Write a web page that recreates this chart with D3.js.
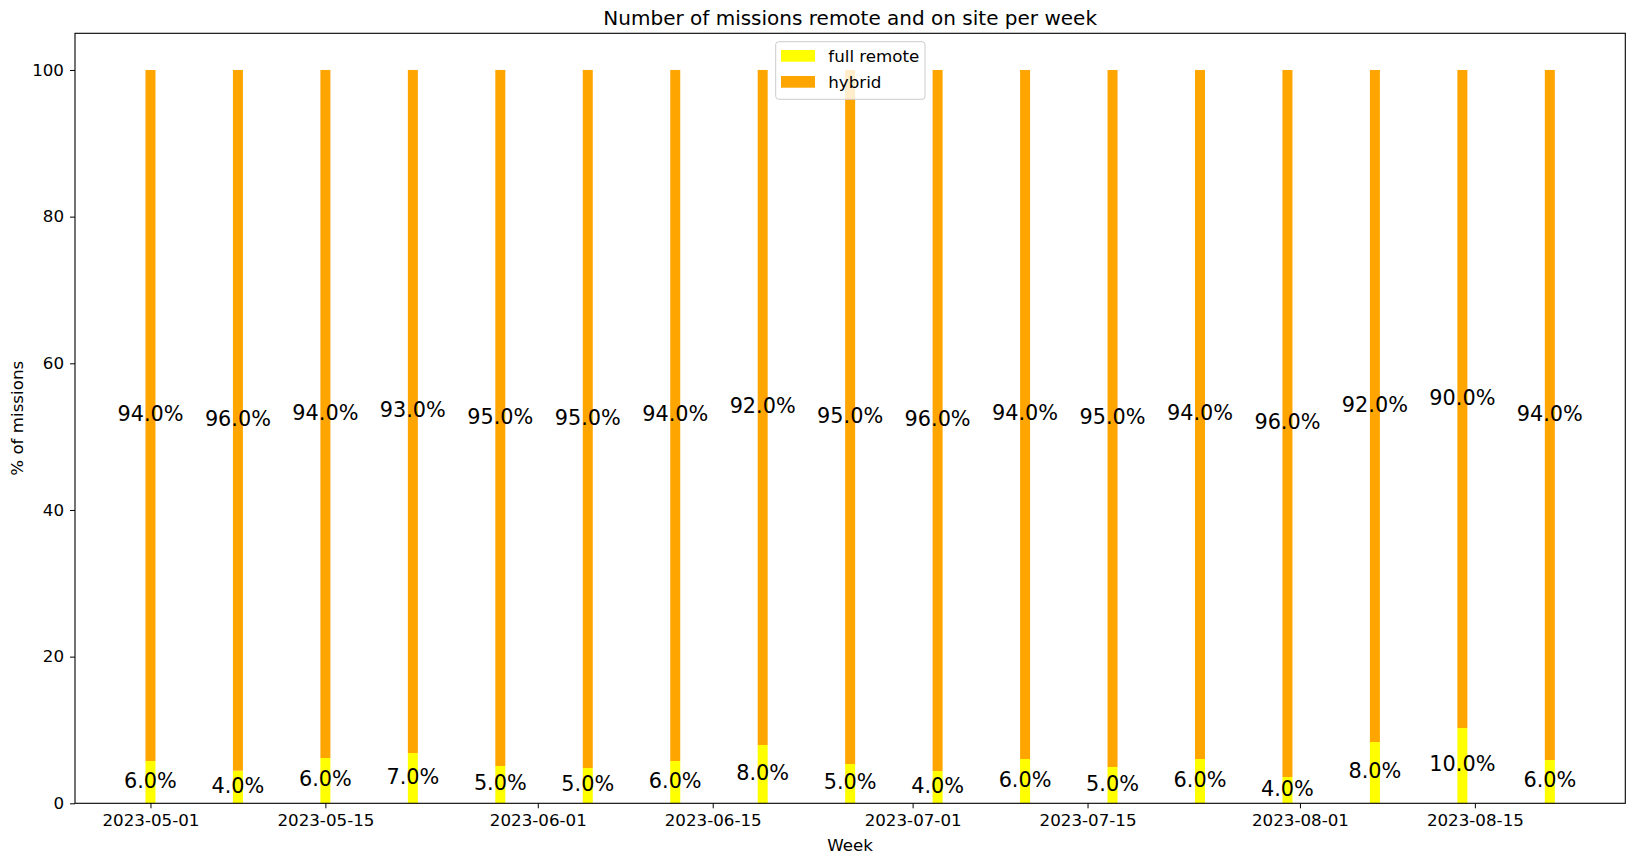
<!DOCTYPE html>
<html>
<head>
<meta charset="utf-8">
<script src="https://cdn.jsdelivr.net/npm/d3@7"></script>
<style>
  html, body { margin: 0; padding: 0; background: #ffffff; }
  svg { display: block; }
  text { font-family: "DejaVu Sans", sans-serif; fill: #000; }
</style>
</head>
<body>
<svg id="chart" width="1634" height="864"></svg>
<script>
// ---- data ----
const weeks = ["2023-05-01","2023-05-08","2023-05-15","2023-05-22","2023-05-29","2023-06-05",
  "2023-06-12","2023-06-19","2023-06-26","2023-07-03","2023-07-10","2023-07-17","2023-07-24",
  "2023-07-31","2023-08-07","2023-08-14","2023-08-21"];
const fullRemote = [5.77, 4.45, 6.18, 6.86, 5.09, 4.81, 5.77, 7.95, 5.36, 4.40, 6.04, 4.95, 6.04, 3.59, 8.36, 10.27, 5.90];
const hybrid     = [94.23, 95.55, 93.82, 93.14, 94.91, 95.19, 94.23, 92.05, 94.64, 95.60, 93.96, 95.05, 93.96, 96.41, 91.64, 89.73, 94.10];
const remoteLabels = ["6.0%","4.0%","6.0%","7.0%","5.0%","5.0%","6.0%","8.0%","5.0%","4.0%","6.0%","5.0%","6.0%","4.0%","8.0%","10.0%","6.0%"];
const hybridLabels = ["94.0%","96.0%","94.0%","93.0%","95.0%","95.0%","94.0%","92.0%","95.0%","96.0%","94.0%","95.0%","94.0%","96.0%","92.0%","90.0%","94.0%"];
const xTickDates = ["2023-05-01","2023-05-15","2023-06-01","2023-06-15","2023-07-01","2023-07-15","2023-08-01","2023-08-15"];
const yTicks = [0, 20, 40, 60, 80, 100];
const seriesNames = ["full remote", "hybrid"];
const seriesColors = ["#ffff00", "#ffa500"];
const chartTitle = "Number of missions remote and on site per week";
const xLabel = "Week";
const yLabel = "% of missions";

// ---- layout ----
const svg = d3.select("#chart");
const pLeft = 75, pRight = 1625.3, pTop = 33.3, pBottom = 803.3;
const FS = 16.7, LFS = 20.8;
const DAY = 86400000;
const parse = d3.utcParse("%Y-%m-%d");
const dates = weeks.map(parse);
const halfW = 0.4 * DAY;
const dMin = +dates[0] - halfW, dMax = +dates[dates.length - 1] + halfW;
const pad = (dMax - dMin) * 0.05;
const x = d3.scaleUtc().domain([new Date(dMin - pad), new Date(dMax + pad)]).range([pLeft, pRight]);
const y = d3.scaleLinear().domain([0, 105]).range([pBottom, pTop]);

const data = dates.map((d, i) => ({ d, r: fullRemote[i], h: hybrid[i], rl: remoteLabels[i], hl: hybridLabels[i] }));
const bw = d => x(new Date(+d + halfW)) - x(new Date(+d - halfW));

// bars
const g = svg.append("g");
g.selectAll("rect.remote").data(data).enter().append("rect")
  .attr("x", d => x(new Date(+d.d - halfW)))
  .attr("width", d => bw(d.d))
  .attr("y", d => y(d.r))
  .attr("height", d => y(0) - y(d.r))
  .attr("fill", seriesColors[0]);
g.selectAll("rect.hybrid").data(data).enter().append("rect")
  .attr("x", d => x(new Date(+d.d - halfW)))
  .attr("width", d => bw(d.d))
  .attr("y", d => y(d.r + d.h))
  .attr("height", d => y(d.r) - y(d.r + d.h))
  .attr("fill", seriesColors[1]);

// labels
const lab = svg.append("g").attr("font-size", LFS).attr("text-anchor", "middle");
lab.selectAll("text.r").data(data).enter().append("text")
  .attr("x", d => x(d.d)).attr("y", d => y(d.r / 2) + 5.6).text(d => d.rl);
lab.selectAll("text.h").data(data).enter().append("text")
  .attr("x", d => x(d.d)).attr("y", d => y(d.r + d.h / 2) + 5.6).text(d => d.hl);

// axes
const xAxis = d3.axisBottom(x).tickValues(xTickDates.map(parse)).tickFormat(d3.utcFormat("%Y-%m-%d"))
  .tickSize(5).tickPadding(6);
const gx = svg.append("g").attr("transform", `translate(0,${pBottom})`).call(xAxis);
const yAxis = d3.axisLeft(y).tickValues(yTicks).tickFormat(d3.format("d")).tickSize(5).tickPadding(6);
const gy = svg.append("g").attr("transform", `translate(${pLeft},0)`).call(yAxis);
[gx, gy].forEach(a => {
  a.select(".domain").remove();
  a.selectAll("text").attr("font-size", FS).attr("font-family", "DejaVu Sans").attr("fill", "#000");
  a.selectAll("line").attr("stroke", "#000").attr("stroke-width", 1);
});

// frame
svg.append("rect").attr("x", pLeft).attr("y", pTop).attr("width", pRight - pLeft).attr("height", pBottom - pTop)
  .attr("fill", "none").attr("stroke", "#000").attr("stroke-width", 1.1);

// titles
svg.append("text").attr("x", (pLeft + pRight) / 2).attr("y", 25).attr("text-anchor", "middle")
  .attr("font-size", 20).text(chartTitle);
svg.append("text").attr("x", (pLeft + pRight) / 2).attr("y", 851).attr("text-anchor", "middle")
  .attr("font-size", FS).text(xLabel);
svg.append("text").attr("transform", `translate(23,${(pTop + pBottom) / 2}) rotate(-90)`)
  .attr("text-anchor", "middle").attr("font-size", FS).text(yLabel);

// legend
const lg = svg.append("g").attr("transform", "translate(775.7,41.7)");
lg.append("rect").attr("width", 149.3).attr("height", 57.6).attr("rx", 3)
  .attr("fill", "#fff").attr("fill-opacity", 0.8).attr("stroke", "#cccccc").attr("stroke-width", 1);
seriesNames.forEach((n, i) => {
  lg.append("rect").attr("x", 5.3).attr("y", 8.3 + i * 26).attr("width", 34).attr("height", 11.7)
    .attr("fill", seriesColors[i]);
  lg.append("text").attr("x", 52.6).attr("y", 20 + i * 26).attr("font-size", FS).text(n);
});
</script>
</body>
</html>
